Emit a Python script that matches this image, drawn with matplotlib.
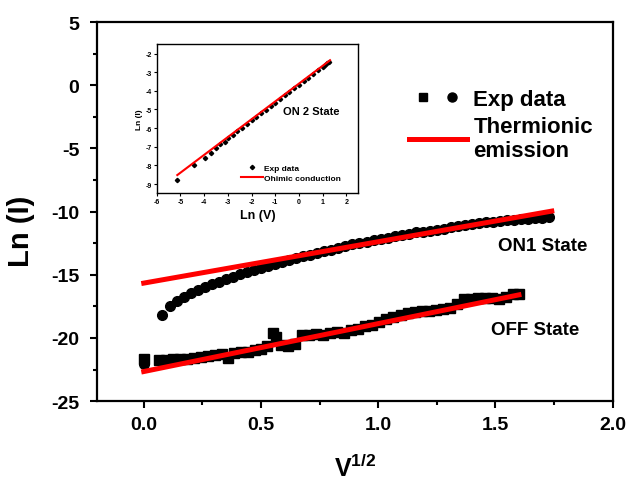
import matplotlib
matplotlib.use('Agg')
import matplotlib.pyplot as plt
from matplotlib.ticker import MultipleLocator
from matplotlib.lines import Line2D
from matplotlib.legend_handler import HandlerTuple

# ON1 state (circles)
on1_v = [0.0, 0.078, 0.11, 0.14, 0.17, 0.20, 0.23, 0.26, 0.29, 0.32, 0.35, 0.38, 0.41, 0.44, 0.47,
         0.50, 0.53, 0.56, 0.59, 0.62, 0.65, 0.68, 0.71, 0.74, 0.77, 0.80, 0.83, 0.86, 0.89, 0.92,
         0.95, 0.98, 1.01, 1.04, 1.07, 1.10, 1.13, 1.16, 1.19, 1.22, 1.25, 1.28, 1.31, 1.34, 1.37,
         1.40, 1.43, 1.46, 1.49, 1.52, 1.55, 1.58, 1.61, 1.64, 1.67, 1.70, 1.73]
on1_lnI = [-22.05, -18.15, -17.45, -17.05, -16.75, -16.45, -16.2, -15.95, -15.75, -15.55, -15.35,
           -15.15, -14.95, -14.8, -14.6, -14.45, -14.3, -14.15, -14.0, -13.85, -13.7, -13.55, -13.4,
           -13.3, -13.15, -13.0, -12.9, -12.75, -12.6, -12.5, -12.4, -12.25, -12.15, -12.05, -11.95,
           -11.85, -11.75, -11.65, -11.6, -11.5, -11.45, -11.35, -11.25, -11.15, -11.05, -11.0, -10.9,
           -10.85, -10.8, -10.75, -10.7, -10.65, -10.6, -10.55, -10.5, -10.5, -10.45]

# OFF state (squares)
off_v = [0.0, 0.065, 0.095, 0.125, 0.155, 0.185, 0.215, 0.245, 0.275, 0.305, 0.335, 0.36, 0.385,
         0.415, 0.445, 0.475, 0.50, 0.525, 0.55, 0.565, 0.585, 0.615, 0.645, 0.675, 0.705, 0.735,
         0.765, 0.795, 0.825, 0.855, 0.885, 0.915, 0.945, 0.975, 1.005, 1.035, 1.065, 1.095, 1.125,
         1.155, 1.185, 1.215, 1.245, 1.275, 1.305, 1.335, 1.365, 1.395, 1.425, 1.455, 1.485, 1.515,
         1.545, 1.575, 1.60]
off_lnI = [-21.7, -21.75, -21.75, -21.7, -21.7, -21.65, -21.6, -21.5, -21.45, -21.35, -21.25, -21.6,
           -21.2, -21.15, -21.1, -20.95, -20.85, -20.6, -19.6, -19.9, -20.55, -20.6, -20.5, -19.8,
           -19.75, -19.7, -19.75, -19.6, -19.55, -19.6, -19.35, -19.3, -19.05, -19.0, -18.7, -18.5,
           -18.35, -18.2, -18.0, -17.95, -17.85, -17.85, -17.75, -17.7, -17.6, -17.35, -16.95, -16.9,
           -16.85, -16.8, -16.85, -16.9, -16.75, -16.55, -16.5]

# thermionic emission fits
on1_fit_v = [0.0, 1.74]
on1_fit = [-15.66, -9.96]
off_fit_v = [0.0, 1.60]
off_fit = [-22.66, -16.59]

# inset: ON 2 state
on2_lnV = [-5.13, -4.43, -3.98, -3.73, -3.48, -3.31, -3.14, -3.0, -2.8, -2.6, -2.4, -2.2, -2.0,
           -1.8, -1.6, -1.4, -1.2, -1.0, -0.8, -0.6, -0.4, -0.2, 0.0, 0.2, 0.4, 0.6, 0.8, 1.0,
           1.1, 1.2, 1.25]
on2_lnI = [-8.78, -8.0, -7.62, -7.31, -7.07, -6.86, -6.72, -6.55, -6.36, -6.17, -5.97, -5.78,
           -5.59, -5.40, -5.21, -5.02, -4.82, -4.63, -4.44, -4.25, -4.06, -3.87, -3.68, -3.48,
           -3.29, -3.10, -2.91, -2.72, -2.62, -2.52, -2.45]
ohm_x = [-5.13, 1.31]
ohm_y = [-8.52, -2.36]

plt.rcParams['font.family'] = ['Liberation Sans', 'DejaVu Sans']
plt.rcParams['font.weight'] = 'bold'
plt.rcParams['axes.unicode_minus'] = False
plt.rcParams['mathtext.fontset'] = 'custom'
plt.rcParams['mathtext.rm'] = 'Liberation Sans'
plt.rcParams['mathtext.bf'] = 'Liberation Sans:bold'

fig = plt.figure(figsize=(6.33, 4.81), dpi=100)
ax = fig.add_axes([0.153, 0.164, 0.815, 0.788])

ax.plot(off_v, off_lnI, 's', color='black', markersize=7, zorder=2)
ax.plot(on1_v, on1_lnI, 'o', color='black', markersize=7, zorder=2)
ax.plot(on1_fit_v, on1_fit, color='red', linewidth=3.6, zorder=3)
ax.plot(off_fit_v, off_fit, color='red', linewidth=3.6, zorder=3)

ax.set_xlim(-0.2, 2.0)
ax.set_ylim(-25, 5)
ax.xaxis.set_major_locator(MultipleLocator(0.5))
ax.xaxis.set_minor_locator(MultipleLocator(0.25))
ax.yaxis.set_major_locator(MultipleLocator(5))
ax.yaxis.set_minor_locator(MultipleLocator(2.5))
ax.tick_params(which='both', direction='out', width=1.5, top=False, right=False)
ax.tick_params(which='major', length=5, labelsize=14)
ax.tick_params(which='minor', length=3)
ax.tick_params(axis='x', which='major', pad=6)
ax.tick_params(axis='y', which='major', pad=7.5)
for lbl in ax.get_xticklabels() + ax.get_yticklabels():
    lbl.set_fontweight('bold')
for sp in ax.spines.values():
    sp.set_linewidth(1.6)

ax.set_xlabel(r'$\mathbf{V}^{\mathrm{1/2}}$', fontsize=18, labelpad=15)
ax.set_ylabel('Ln (I)', fontsize=21, fontweight='bold')
ax.yaxis.set_label_coords(-0.12, 0.45)

ax.text(1.51, -12.7, 'ON1 State', fontsize=13.5, fontweight='bold', va='center')
ax.text(1.48, -19.35, 'OFF State', fontsize=13.5, fontweight='bold', va='center')

sq = Line2D([], [], marker='s', color='black', linestyle='none', markersize=6)
ci = Line2D([], [], marker='o', color='black', linestyle='none', markersize=6.5)
rl = Line2D([], [], color='red', linewidth=3.6)
ax.legend([(sq, ci), rl], ['Exp data', 'Thermionic\nemission'],
          handler_map={tuple: HandlerTuple(ndivide=None)},
          loc='upper left', bbox_to_anchor=(0.605, 0.823), frameon=False,
          prop={'size': 16, 'weight': 'bold'}, handlelength=2.6, handletextpad=0.3,
          labelspacing=0.25, borderpad=0.0, borderaxespad=0.0)

# inset
ins = fig.add_axes([0.2475, 0.596, 0.3185, 0.31])
ins.plot(on2_lnV, on2_lnI, 'D', color='black', markersize=2.2, label='Exp data')
ins.plot(ohm_x, ohm_y, color='red', linewidth=1.5, label='Ohimic conduction')
ins.set_xlim(-6, 2.5)
ins.set_ylim(-9.5, -1.5)
ins.xaxis.set_major_locator(MultipleLocator(1))
ins.yaxis.set_major_locator(MultipleLocator(1))
ins.tick_params(which='both', direction='out', length=2, width=0.8, labelsize=5, pad=1.5,
                top=False, right=False)
for lbl in ins.get_xticklabels() + ins.get_yticklabels():
    lbl.set_fontweight('bold')
for sp in ins.spines.values():
    sp.set_linewidth(1.0)
ins.set_xlabel('Ln (V)', fontsize=9, fontweight='bold', labelpad=3)
ins.set_ylabel('Ln (I)', fontsize=6, fontweight='bold', labelpad=2)
ins.text(-0.66, -5.1, 'ON 2 State', fontsize=8, fontweight='bold', va='center')
ins.legend(loc='lower right', bbox_to_anchor=(0.94, 0.04), frameon=False,
           prop={'size': 6, 'weight': 'bold'}, handlelength=2.6, handletextpad=0.15,
           labelspacing=0.3, borderpad=0.1, numpoints=1)

fig.savefig('out.png', dpi=100)
